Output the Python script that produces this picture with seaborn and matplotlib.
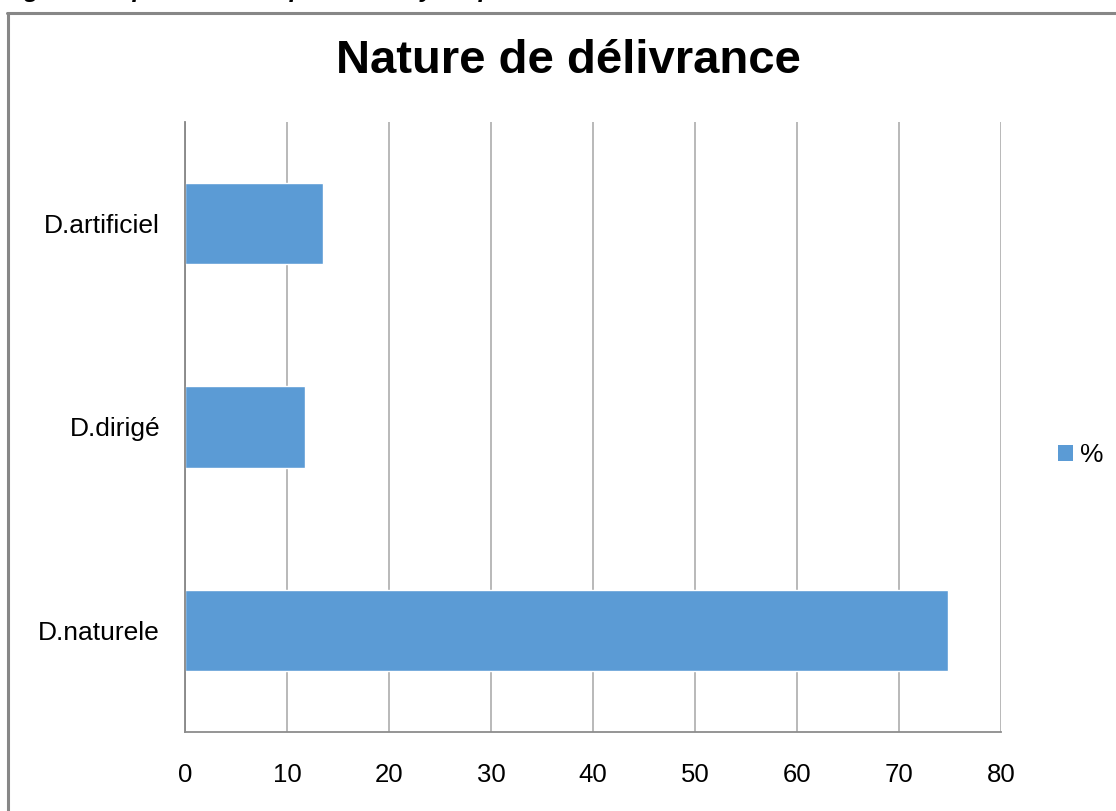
import matplotlib
matplotlib.use("Agg")
import matplotlib.pyplot as plt
from matplotlib.lines import Line2D
from matplotlib.patches import Patch
import seaborn as sns

# data
categories = ["D.artificiel", "D.dirigé", "D.naturele"]
percent = [13.5, 11.8, 74.8]
x_ticks = [0, 10, 20, 30, 40, 50, 60, 70, 80]
series_name = "%"
chart_title = "Nature de délivrance"
caption = "Figure : Répartition des patientes ayant présentées une HPP selon la nature de délivrance"

BAR_COLOR = "#5B9BD5"


def make_chart():
    sns.set_style("white")
    plt.rcParams["font.family"] = ["Liberation Sans", "DejaVu Sans"]
    plt.rcParams["text.color"] = "black"

    W, H = 1116, 811
    fig = plt.figure(figsize=(W / 100, H / 100), dpi=100)
    ax = fig.add_axes([185 / W, 1 - 732 / H, (1001 - 185) / W, (732 - 122) / H])

    sns.barplot(x=percent, y=categories, orient="h", color=BAR_COLOR,
                width=0.4, saturation=1, ax=ax)

    ax.set_xlim(0, 80)
    ax.set_ylim(2.5, -0.5)
    ax.set_xticks(x_ticks)
    ax.set_xticklabels([str(t) for t in x_ticks])
    ax.set_xlabel("")
    ax.set_ylabel("")
    ax.tick_params(axis="x", length=0, pad=22, labelsize=18.5, colors="black")
    ax.tick_params(axis="y", length=0, pad=18, labelsize=19, colors="black")

    ax.grid(axis="x", color="#A6A6A6", linewidth=1.1)
    ax.set_axisbelow(True)
    for side in ["top", "right"]:
        ax.spines[side].set_visible(False)
    ax.spines["left"].set_color("#868686")
    ax.spines["bottom"].set_color("#8C8C8C")
    ax.spines["left"].set_linewidth(1.3)
    ax.spines["bottom"].set_linewidth(1.3)

    fig.text(568 / W, 1 - 61 / H, chart_title, ha="center", va="center",
             fontsize=34, fontweight="bold", color="black")

    handle = Patch(facecolor=BAR_COLOR, edgecolor="none", label=series_name)
    fig.legend(handles=[handle], loc="center left",
               bbox_to_anchor=(1058 / W, 1 - 455 / H), frameon=False,
               fontsize=19, handlelength=0.55, handleheight=0.55,
               handletextpad=0.3, borderpad=0, borderaxespad=0)

    # outer chart frame (cut by the page on the right and bottom)
    fig.add_artist(Line2D([8 / W, 8 / W], [0, 1 - 13 / H], transform=fig.transFigure,
                          color="#878787", linewidth=2.2))
    fig.add_artist(Line2D([7 / W, 1], [1 - 13 / H, 1 - 13 / H], transform=fig.transFigure,
                          color="#878787", linewidth=2.2))

    # caption above the frame, mostly cut off by the page edge
    fig.text(2 / W, 1 + 3 / H, caption, ha="left", va="baseline",
             fontsize=18, fontweight="bold", fontstyle="italic", color="black")

    fig.savefig("out.png", dpi=100)
    print("saved out.png")


if __name__ == "__main__":
    make_chart()
